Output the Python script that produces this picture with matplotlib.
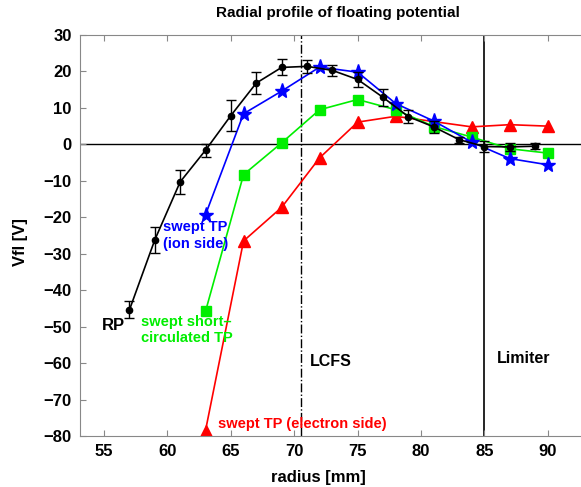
import numpy as np
import matplotlib
matplotlib.use('Agg')
import matplotlib.pyplot as plt

plt.rcParams['font.family'] = ['Liberation Sans', 'DejaVu Sans']
plt.rcParams['font.weight'] = 'bold'

# RP (black, with error bars)
r_rp = [57, 59, 61, 63, 65, 67, 69, 71, 73, 75, 77, 79, 81, 83, 85, 87, 89]
v_rp = [-45.4, -26.2, -10.3, -1.6, 7.9, 16.8, 21.1, 21.4, 20.3, 17.8, 12.9, 7.6, 4.8, 1.3, -0.6, -0.7, -0.5]
e_rp = [2.3, 3.5, 3.4, 1.8, 4.3, 3.0, 2.2, 1.8, 1.6, 2.0, 2.3, 1.8, 1.6, 0.8, 1.4, 1.2, 0.9]

# swept TP (ion side), blue stars
r_ion = [63, 66, 69, 72, 75, 78, 81, 84, 87, 90]
v_ion = [-19.3, 8.4, 14.6, 21.2, 19.8, 11.2, 6.4, 0.6, -3.9, -5.6]

# swept short-circuited TP, green squares
r_sc = [63, 66, 69, 72, 75, 78, 81, 84, 87, 90]
v_sc = [-45.8, -8.3, 0.4, 9.5, 12.3, 9.5, 4.9, 2.0, -1.2, -2.4]

# swept TP (electron side), red triangles
r_el = [63, 66, 69, 72, 75, 78, 84, 87, 90]
v_el = [-78.5, -26.5, -17.3, -3.7, 6.1, 7.7, 4.8, 5.4, 5.0]

r_lcfs = 70.5
r_lim = 85

fig = plt.figure(figsize=(5.81, 4.87), dpi=100)
ax = fig.add_axes([80/581, 51/487, 516/581, 401/487])

ax.axhline(0, color='black', lw=1.0, zorder=1)
ax.axvline(r_lcfs, color='black', lw=1.0, ls='-.', zorder=1)
ax.axvline(r_lim, color='black', lw=1.2, zorder=1)

ax.plot(r_el, v_el, '-^', color='red', ms=9, lw=1.2, zorder=2)
ax.plot(r_sc, v_sc, '-s', color='#00ee00', ms=6.5, lw=1.2, zorder=3)
ax.plot(r_ion, v_ion, '-*', color='blue', ms=11, lw=1.2, zorder=4)
ax.errorbar(r_rp, v_rp, yerr=e_rp, fmt='-o', color='black', ms=4.5, lw=1.2,
            capsize=3.5, elinewidth=1.0, zorder=5)

ax.set_xlim(53.1, 93.8)
ax.set_ylim(-80, 30)
ax.set_xticks([55, 60, 65, 70, 75, 80, 85, 90])
ax.set_yticks(np.arange(-80, 31, 10))

for s in ax.spines.values():
    s.set_color('#888888')
ax.tick_params(direction='in', top=True, right=True, color='#888888',
               labelsize=12, length=4, pad=6)
for lab in ax.get_xticklabels() + ax.get_yticklabels():
    lab.set_fontweight('bold')

ax.set_title('Radial profile of floating potential', fontsize=11, fontweight='bold',
             x=(338 - 80) / 516, pad=13)
ax.set_xlabel('radius [mm]', fontsize=12, fontweight='bold')
ax.xaxis.set_label_coords((318 - 80) / 516, -0.085)
ax.set_ylabel('Vfl [V]', fontsize=12, fontweight='bold')
ax.yaxis.set_label_coords(-52 / 516, 1 - (242 - 35) / 401)

ax.text(55.7, -49.7, 'RP', color='black', fontsize=12, fontweight='bold',
        ha='center', va='center')
ax.text(59.65, -25.0, 'swept TP\n(ion side)', color='blue', fontsize=10.5,
        fontweight='bold', ha='left', va='center', linespacing=1.2)
ax.text(57.9, -50.9, 'swept short\u2013\ncirculated TP', color='#00ee00', fontsize=10.5,
        fontweight='bold', ha='left', va='center', linespacing=1.2)
ax.text(64.0, -76.8, 'swept TP (electron side)', color='red', fontsize=10.5,
        fontweight='bold', ha='left', va='center')
ax.text(71.25, -59.5, 'LCFS', color='black', fontsize=11.5, fontweight='bold',
        ha='left', va='center')
ax.text(86.0, -58.7, 'Limiter', color='black', fontsize=11.5, fontweight='bold',
        ha='left', va='center')

fig.savefig('out.png', dpi=100)
